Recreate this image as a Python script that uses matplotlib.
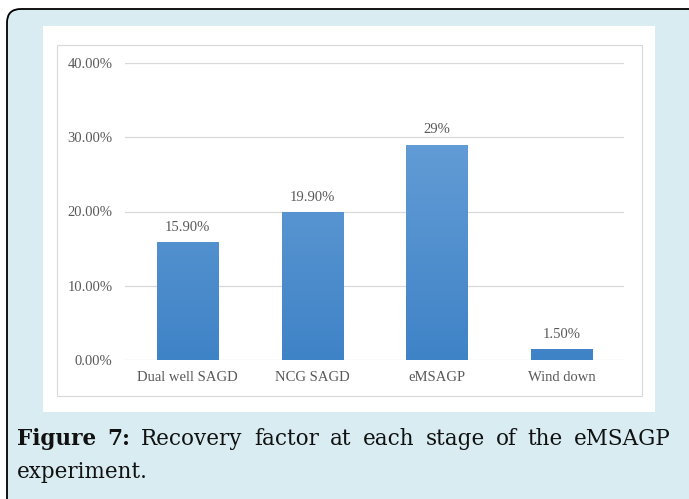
import matplotlib
matplotlib.use("Agg")
import matplotlib.pyplot as plt
import numpy as np
from matplotlib.patches import FancyBboxPatch, Rectangle
from matplotlib.colors import LinearSegmentedColormap

categories = ["Dual well SAGD", "NCG SAGD", "eMSAGP", "Wind down"]
values = [0.159, 0.199, 0.29, 0.015]
value_labels = ["15.90%", "19.90%", "29%", "1.50%"]
yticks = [0.0, 0.1, 0.2, 0.3, 0.4]
ytick_labels = ["0.00%", "10.00%", "20.00%", "30.00%", "40.00%"]
caption_bold = "Figure 7:"
caption_rest = "Recovery factor at each stage of the eMSAGP"
caption_line2 = "experiment."

W, H = 689, 499
fig = plt.figure(figsize=(W / 100, H / 100), dpi=100, facecolor="white")

def fx(x):
    return x / W

def fy(y):
    return 1 - y / H

# outer rounded box
box = FancyBboxPatch((fx(7), fy(540)), fx(720) - fx(7), fy(9) - fy(540),
                     boxstyle="round,pad=0,rounding_size=0.02",
                     transform=fig.transFigure, facecolor="#d8ecf2",
                     edgecolor="black", linewidth=1.3, zorder=0,
                     mutation_aspect=W / H)
fig.patches.append(box)
# white panel
fig.patches.append(Rectangle((fx(43), fy(412)), fx(655) - fx(43), fy(26) - fy(412),
                             transform=fig.transFigure, facecolor="white",
                             edgecolor="none", zorder=1))
# inner chart border
fig.patches.append(Rectangle((fx(57), fy(396)), fx(642) - fx(57), fy(45) - fy(396),
                             transform=fig.transFigure, facecolor="white",
                             edgecolor="#d9d9d9", linewidth=0.8, zorder=2))

ax = fig.add_axes([fx(125), fy(360), fx(624) - fx(125), fy(63) - fy(360)])
ax.set_facecolor("none")
ax.set_zorder(3)
x = np.arange(len(categories))
bars = ax.bar(x, values, width=0.49, color="#5b9bd5", zorder=2)

cmap = LinearSegmentedColormap.from_list("g", ["#3f83c7", "#70a5db"])
grad = np.linspace(0, 1, 256).reshape(-1, 1)
for b in bars:
    bx = b.get_x()
    bw = b.get_width()
    im = ax.imshow(grad, cmap=cmap, origin="lower", aspect="auto",
                   extent=[bx, bx + bw, 0, 0.4], zorder=2.5)
    im.set_clip_path(b)
    b.set_facecolor("none")
    b.set_edgecolor("none")
ax.set_xlim(-0.5, len(categories) - 0.5)
ax.set_ylim(0, 0.4)

for s in ax.spines.values():
    s.set_visible(False)
ax.set_yticks(yticks)
ax.set_yticklabels(ytick_labels)
ax.set_xticks(x)
ax.set_xticklabels(categories)
ax.tick_params(length=0, labelsize=10.5, labelcolor="#595959")
ax.tick_params(axis="y", pad=9)
ax.tick_params(axis="x", pad=8)
for lbl in ax.get_xticklabels() + ax.get_yticklabels():
    lbl.set_fontfamily("Liberation Serif")
ax.yaxis.grid(True, color="#d9d9d9", linewidth=0.9, zorder=0)
ax.set_axisbelow(True)

for xi, v, t in zip(x, values, value_labels):
    ax.annotate(t, (xi, v), xytext=(0, 6), textcoords="offset points",
                ha="center", va="bottom", fontsize=10.5, color="#595959",
                family="Liberation Serif", zorder=4)

# caption, justified first line
fig.canvas.draw()
r = fig.canvas.get_renderer()
fs = 15.5
words = [(w, "bold") for w in caption_bold.split()] + [(w, "normal") for w in caption_rest.split()]
texts = []
for w, wt in words:
    t = fig.text(0, fy(445), w, fontsize=fs, fontweight=wt, family="DejaVu Serif",
                 color="#111111", ha="left", va="baseline")
    texts.append(t)
widths = [t.get_window_extent(r).width for t in texts]
left, right = 17, 671
gap = (right - left - sum(widths)) / (len(texts) - 1)
pos = left
for t, wdt in zip(texts, widths):
    t.set_x(fx(pos))
    pos += wdt + gap
fig.text(fx(17), fy(478), caption_line2, fontsize=fs, family="DejaVu Serif",
         color="#111111", ha="left", va="baseline")

fig.savefig("out.png", dpi=100, facecolor="white")
